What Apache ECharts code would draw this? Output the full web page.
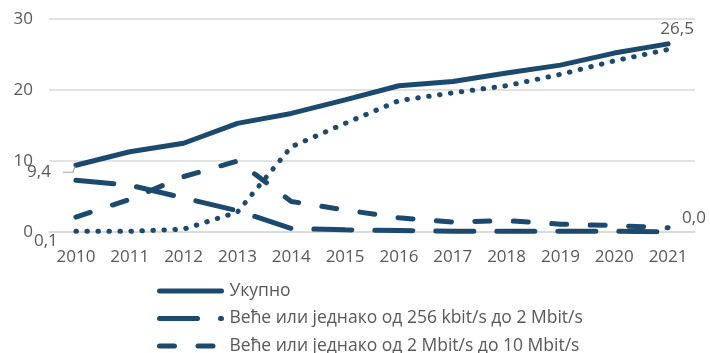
<!DOCTYPE html>
<html>
<head>
<meta charset="utf-8">
<script src="https://cdn.jsdelivr.net/npm/echarts@6/dist/echarts.min.js"></script>
<style>
  html, body { margin: 0; padding: 0; background: #fff; }
  #chart { width: 710px; height: 353px; }
</style>
</head>
<body>
<div id="chart"></div>
<script>
// Years on the category axis
const years = ['2010', '2011', '2012', '2013', '2014', '2015', '2016', '2017', '2018', '2019', '2020', '2021'];

// Series values
const total      = [9.4, 11.3, 12.5, 15.3, 16.7, 18.6, 20.6, 21.2, 22.4, 23.5, 25.2, 26.5];
const from256k   = [7.3, 6.6, 4.8, 3.0, 0.5, 0.3, 0.2, 0.1, 0.1, 0.1, 0.1, 0.0];
const from2M     = [2.1, 4.6, 7.8, 10.0, 4.3, 3.1, 2.0, 1.4, 1.6, 1.1, 0.9, 0.6];
const over10M    = [0.1, 0.1, 0.4, 2.8, 12.0, 15.3, 18.5, 19.6, 20.6, 22.2, 24.1, 25.7];

// Series names
const nameTotal = 'Укупно';
const name256k  = 'Веће или једнако од 256 kbit/s до 2 Mbit/s';
const name2M    = 'Веће или једнако од 2 Mbit/s до 10 Mbit/s';
const name10M   = 'Веће или једнако од 10 Mbit/s';
const legendNames = [nameTotal, name256k, name2M];

// Y axis ticks
const yMin = 0, yMax = 30, yStep = 10;

const blue = '#1c4a6e';
const grey = '#595959';
const font = '"Open Sans", sans-serif';

// Show a value label only at the chosen indices
function withLabels(values, labels) {
  return values.map((v, i) => labels[i]
    ? { value: v, label: Object.assign({ show: true, color: grey, fontSize: 17, fontFamily: font }, labels[i]) }
    : v);
}
const fmt = p => p.value.toFixed(1).replace('.', ',');

// One legend block per row so the rows stack exactly
const legends = legendNames.map((n, i) => ({
  orient: 'vertical',
  left: 157,
  top: 282 + i * 27.5,
  padding: 0,
  itemWidth: 62,
  itemHeight: 10,
  data: [n],
  itemStyle: { opacity: 0 },
  lineStyle: { width: 5, cap: 'round' },
  textStyle: { color: grey, fontSize: 17.5, fontFamily: font, padding: [0, 0, 0, 3] }
}));

const lineSeries = (name, values, dash, z, labels) => ({
  name, type: 'line', z,
  symbol: 'circle', symbolSize: 0.01, showAllSymbol: true,
  lineStyle: { color: blue, width: 5, type: dash, cap: 'round' },
  itemStyle: { color: blue },
  data: withLabels(values, labels || {})
});

const chart = echarts.init(document.getElementById('chart'));
chart.setOption({
  animation: false,
  backgroundColor: '#fff',
  textStyle: { fontFamily: font },
  grid: { left: 49, right: 15, top: 19, bottom: 121, containLabel: false },
  legend: legends,
  xAxis: {
    type: 'category',
    data: years,
    boundaryGap: true,
    axisLine: { show: true, lineStyle: { color: '#d9d9d9', width: 1.5 } },
    axisTick: { show: false },
    axisLabel: { color: grey, fontSize: 17, margin: 17 }
  },
  yAxis: {
    type: 'value',
    min: yMin, max: yMax, interval: yStep,
    axisLine: { show: false },
    axisTick: { show: false },
    splitLine: { lineStyle: { color: '#d9d9d9', width: 1.5 } },
    axisLabel: { color: grey, fontSize: 17, margin: 16 }
  },
  series: [
    lineSeries(nameTotal, total, 'solid', 5, {
      0: { position: 'left', offset: [-20, 7], formatter: fmt },
      11: { position: 'top', align: 'center', offset: [9, -1], formatter: fmt }
    }),
    lineSeries(name256k, from256k, [38, 23], 4, {
      11: { position: 'right', offset: [9, -14], formatter: fmt }
    }),
    lineSeries(name2M, from2M, [15, 23.5], 4),
    lineSeries(name10M, over10M, [0.5, 10.5], 3, {
      0: { position: 'bottom', offset: [-30, -4], formatter: fmt }
    })
  ]
});

// Leader line for the first total label, placed from the axis scales
const p = chart.convertToPixel({ gridIndex: 0 }, [0, total[0]]);
chart.setOption({
  graphic: [{
    type: 'polyline',
    shape: { points: [[p[0] - 13, p[1] + 7], [p[0] - 3, p[1] + 7], [p[0] - 1, p[1] + 1]] },
    style: { stroke: '#a6a6a6', lineWidth: 1.2, fill: null },
    z: 10
  }]
});
</script>
</body>
</html>
